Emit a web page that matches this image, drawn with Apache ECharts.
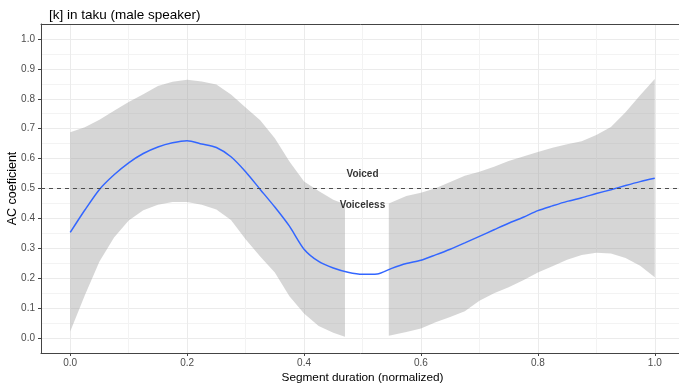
<!DOCTYPE html>
<html>
<head>
<meta charset="utf-8">
<script src="https://cdn.jsdelivr.net/npm/echarts@6/dist/echarts.min.js"></script>
<style>
  html, body { margin: 0; padding: 0; background: #ffffff; }
  #chart { width: 679px; height: 391px; }
</style>
</head>
<body>
<div id="chart"></div>
<script>
// Smoothed AC coefficient over normalized segment duration
const lineX = [0.000, 0.025, 0.050, 0.075, 0.100, 0.125, 0.150, 0.175, 0.200, 0.225,
               0.250, 0.275, 0.300, 0.325, 0.350, 0.375, 0.400, 0.425, 0.450, 0.475,
               0.500, 0.525, 0.550, 0.575, 0.600, 0.625, 0.650, 0.675, 0.700, 0.725,
               0.750, 0.775, 0.800, 0.825, 0.850, 0.875, 0.900, 0.925, 0.950, 0.975, 1.000];
const lineY = [0.353, 0.428, 0.497, 0.546, 0.586, 0.617, 0.639, 0.653, 0.660, 0.649,
               0.637, 0.606, 0.556, 0.497, 0.438, 0.374, 0.297, 0.256, 0.234, 0.220,
               0.213, 0.214, 0.233, 0.249, 0.260, 0.278, 0.297, 0.318, 0.340, 0.362,
               0.384, 0.404, 0.426, 0.442, 0.457, 0.469, 0.483, 0.496, 0.510, 0.523, 0.534];

// Confidence band, first stretch (before the gap)
const bandAX  = [0.000, 0.025, 0.050, 0.075, 0.100, 0.125, 0.150, 0.175, 0.200, 0.225,
                 0.250, 0.275, 0.300, 0.325, 0.350, 0.375, 0.400, 0.425, 0.450, 0.470];
const bandAHi = [0.688, 0.705, 0.730, 0.760, 0.789, 0.815, 0.843, 0.857, 0.864, 0.858,
                 0.848, 0.814, 0.771, 0.728, 0.668, 0.590, 0.523, 0.492, 0.462, 0.447];
const bandALo = [0.022, 0.143, 0.256, 0.336, 0.393, 0.427, 0.446, 0.455, 0.455, 0.446,
                 0.430, 0.395, 0.330, 0.273, 0.219, 0.140, 0.082, 0.040, 0.018, 0.004];

// Confidence band, second stretch (after the gap)
const bandBX  = [0.545, 0.575, 0.600, 0.625, 0.650, 0.675, 0.700, 0.725, 0.750, 0.775,
                 0.800, 0.825, 0.850, 0.875, 0.900, 0.925, 0.950, 0.975, 1.000];
const bandBHi = [0.450, 0.475, 0.486, 0.501, 0.522, 0.543, 0.556, 0.573, 0.592, 0.607,
                 0.622, 0.636, 0.648, 0.658, 0.679, 0.706, 0.755, 0.812, 0.866];
const bandBLo = [0.008, 0.020, 0.032, 0.053, 0.070, 0.090, 0.125, 0.150, 0.170, 0.193,
                 0.219, 0.240, 0.262, 0.278, 0.285, 0.283, 0.268, 0.242, 0.203];

// Threshold and its annotations
const threshold = 0.5;
const annoText = ['Voiced', 'Voiceless'];
const annoX = [0.5, 0.5];
const annoY = [0.547, 0.445];

// Tick labels
const xTicks = [0.0, 0.2, 0.4, 0.6, 0.8, 1.0];
const yTicks = [0.0, 0.1, 0.2, 0.3, 0.4, 0.5, 0.6, 0.7, 0.8, 0.9, 1.0];

const FONT = "'Liberation Sans', Arial, sans-serif";
const MAJOR = '#EBEBEB';
const MINOR = '#F3F3F3';
const AXIS = '#444444';

function bandSeries(xs, lo, hi) {
  return {
    type: 'custom',
    xAxisIndex: 1,
    yAxisIndex: 1,
    silent: true,
    z: 1,
    data: xs.map((x, i) => [x, lo[i], hi[i]]),
    encode: { x: 0, y: [1, 2] },
    renderItem: function (params, api) {
      if (params.dataIndex !== 0) return null;
      const upper = xs.map((x, i) => api.coord([x, hi[i]]));
      const lower = xs.map((x, i) => api.coord([x, lo[i]])).reverse();
      return {
        type: 'polygon',
        shape: { points: upper.concat(lower) },
        style: { fill: 'rgba(153,153,153,0.4)' }
      };
    }
  };
}

const chart = echarts.init(document.getElementById('chart'), null, { renderer: 'canvas' });

chart.setOption({
  animation: false,
  backgroundColor: '#ffffff',
  textStyle: { fontFamily: FONT },
  title: {
    text: '[k] in taku (male speaker)',
    left: 44,
    top: 3,
    textStyle: { fontFamily: FONT, fontSize: 13.5, fontWeight: 'normal', color: '#000000' }
  },
  grid: {
    left: 41, right: -5, top: 24, bottom: 38,
    outerBoundsMode: 'none',
    containLabel: false
  },
  xAxis: [
    { // grid lines
      type: 'value', position: 'bottom', min: -0.05, max: 1.05, interval: 0.05,
      axisLine: { show: false }, axisTick: { show: false }, axisLabel: { show: false },
      splitLine: { show: true, lineStyle: { width: 1, color: ['rgba(0,0,0,0)', MAJOR, 'rgba(0,0,0,0)', MINOR] } }
    },
    { // visible axis
      type: 'value', position: 'bottom', min: -0.05, max: 1.05,
      axisLine: { show: true, onZero: false, lineStyle: { color: AXIS, width: 1 } },
      axisTick: { show: true, length: 3, customValues: xTicks, lineStyle: { color: AXIS } },
      axisLabel: {
        show: true, customValues: xTicks, margin: 5,
        color: '#4D4D4D', fontSize: 10, fontFamily: FONT,
        formatter: v => Number(v).toFixed(1)
      },
      splitLine: { show: false },
      name: 'Segment duration (normalized)',
      nameLocation: 'middle',
      nameGap: 18.5,
      nameMoveOverlap: false,
      nameTextStyle: { color: '#000000', fontSize: 11.8, fontFamily: FONT }
    },
    { // panel top edge
      type: 'value', position: 'top', min: -0.05, max: 1.05,
      axisLine: { show: true, onZero: false, lineStyle: { color: AXIS, width: 1 } },
      axisTick: { show: false }, axisLabel: { show: false }, splitLine: { show: false }
    }
  ],
  yAxis: [
    { // grid lines
      type: 'value', position: 'left', min: -0.05, max: 1.05, interval: 0.05,
      axisLine: { show: false }, axisTick: { show: false }, axisLabel: { show: false },
      splitLine: { show: true, lineStyle: { width: 1, color: [MINOR, MAJOR] } }
    },
    { // visible axis
      type: 'value', position: 'left', min: -0.05, max: 1.05,
      axisLine: { show: true, onZero: false, lineStyle: { color: AXIS, width: 1 } },
      axisTick: { show: true, length: 3, customValues: yTicks, lineStyle: { color: AXIS } },
      axisLabel: {
        show: true, customValues: yTicks, margin: 6,
        color: '#4D4D4D', fontSize: 10, fontFamily: FONT,
        formatter: v => Number(v).toFixed(1)
      },
      splitLine: { show: false },
      name: 'AC coeficient',
      nameLocation: 'middle',
      nameRotate: 90,
      nameGap: 22,
      nameMoveOverlap: false,
      nameTextStyle: { color: '#000000', fontSize: 12.5, fontFamily: FONT }
    }
  ],
  series: [
    bandSeries(bandAX, bandALo, bandAHi),
    bandSeries(bandBX, bandBLo, bandBHi),
    {
      type: 'line',
      xAxisIndex: 1,
      yAxisIndex: 1,
      z: 3,
      silent: true,
      showSymbol: false,
      symbol: 'none',
      smooth: 0.25,
      data: lineX.map((x, i) => [x, lineY[i]]),
      lineStyle: { color: '#3366FF', width: 1.5 },
      markLine: {
        silent: true,
        symbol: 'none',
        label: { show: false },
        lineStyle: { color: '#4D4D4D', width: 1, type: [4, 4] },
        data: [{ yAxis: threshold }]
      }
    },
    {
      type: 'scatter',
      xAxisIndex: 1,
      yAxisIndex: 1,
      z: 4,
      silent: true,
      symbolSize: 0,
      itemStyle: { color: 'rgba(0,0,0,0)' },
      data: annoText.map((t, i) => [annoX[i], annoY[i], t]),
      label: {
        show: true,
        position: 'inside',
        formatter: p => p.data[2],
        color: '#000000',
        fontSize: 10,
        fontWeight: 'bold',
        fontFamily: FONT
      }
    }
  ]
});
</script>
</body>
</html>
